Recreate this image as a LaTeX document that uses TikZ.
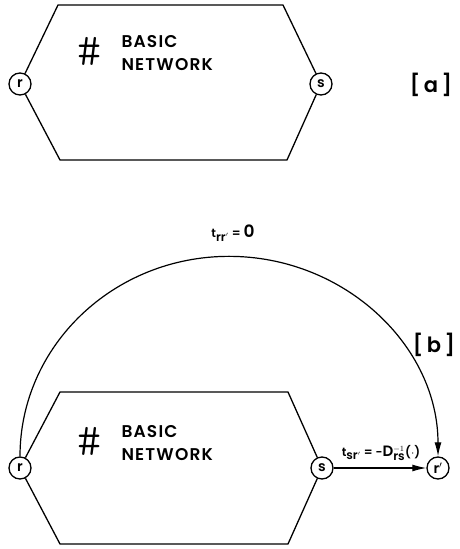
\documentclass[tikz,border=0pt]{standalone}
\usepackage{fontspec}
\setmainfont{Poppins SemiBold}
\newfontfamily\hashfont{Latin Modern Mono Light}
\usetikzlibrary{arrows.meta,positioning}

\begin{document}
\begin{tikzpicture}[
    x=1pt, y=1pt,
    vertex/.style={circle, draw, line width=1.3pt, fill=white, inner sep=0pt, minimum size=22pt, font=\fontsize{14}{14}\selectfont},
    net/.style={line width=1.3pt, line join=miter},
    title/.style={align=left, anchor=west, font=\addfontfeature{LetterSpace=7}\fontsize{17}{23}\selectfont},
    hash/.style={font=\hashfont\fontsize{46}{46}\selectfont},
    tag/.style={font=\fontsize{21}{21}\selectfont},
    lbl/.style={font=\fontsize{12}{12}\selectfont},
    arrow/.style={-{Latex[length=14pt,width=7pt]}, line width=1.2pt}
]
\useasboundingbox (0,0) rectangle (460,549);

% [a]
\coordinate (a1) at (58,544);
\coordinate (a2) at (283,544);
\coordinate (a3) at (287,389);
\coordinate (a4) at (60,389);
\node[vertex] (ra) at (20,465) {r};
\node[vertex] (sa) at (321,465) {s};
\draw[net] (ra) -- (a1) -- (a2) -- (sa) -- (a3) -- (a4) -- (ra);
\node[hash] (hasha) at (90,498) {\#};
\node[title] (neta) at (118,496) {BASIC\\NETWORK};
\node[tag] (taga) at (431,464) {[\,a\,]};

% [b]
\coordinate (b1) at (60,157);
\coordinate (b2) at (288,157);
\coordinate (b3) at (288,5);
\coordinate (b4) at (60,5);
\node[vertex] (rb) at (20,81) {r};
\node[vertex] (sb) at (322,81) {s};
\node[vertex] (rr) at (438,81) {r$'$};
\draw[net] (rb) -- (b1) -- (b2) -- (sb) -- (b3) -- (b4) -- (rb);
\node[hash] (hashb) at (90,108) {\#};
\node[title] (netb) at (118,106) {BASIC\\NETWORK};
\node[tag] (tagb) at (434,204) {[\,b\,]};

\draw[arrow] (rb.north) arc[start angle=180, end angle=0, x radius=209, y radius=200] coordinate (top);
\node[lbl] (lrr) at (233,316) {t$_{\textrm{rr}'}$ = {\fontsize{17}{17}\selectfont 0}};
\draw[arrow] (sb) -- (rr);
\node[lbl] (lsr) at (381,96) {t$_{\textrm{sr}'}$ = -{\fontsize{15}{15}\selectfont D}$^{-1}_{\textrm{rs}}$($\cdot$)};

\end{tikzpicture}
\end{document}
